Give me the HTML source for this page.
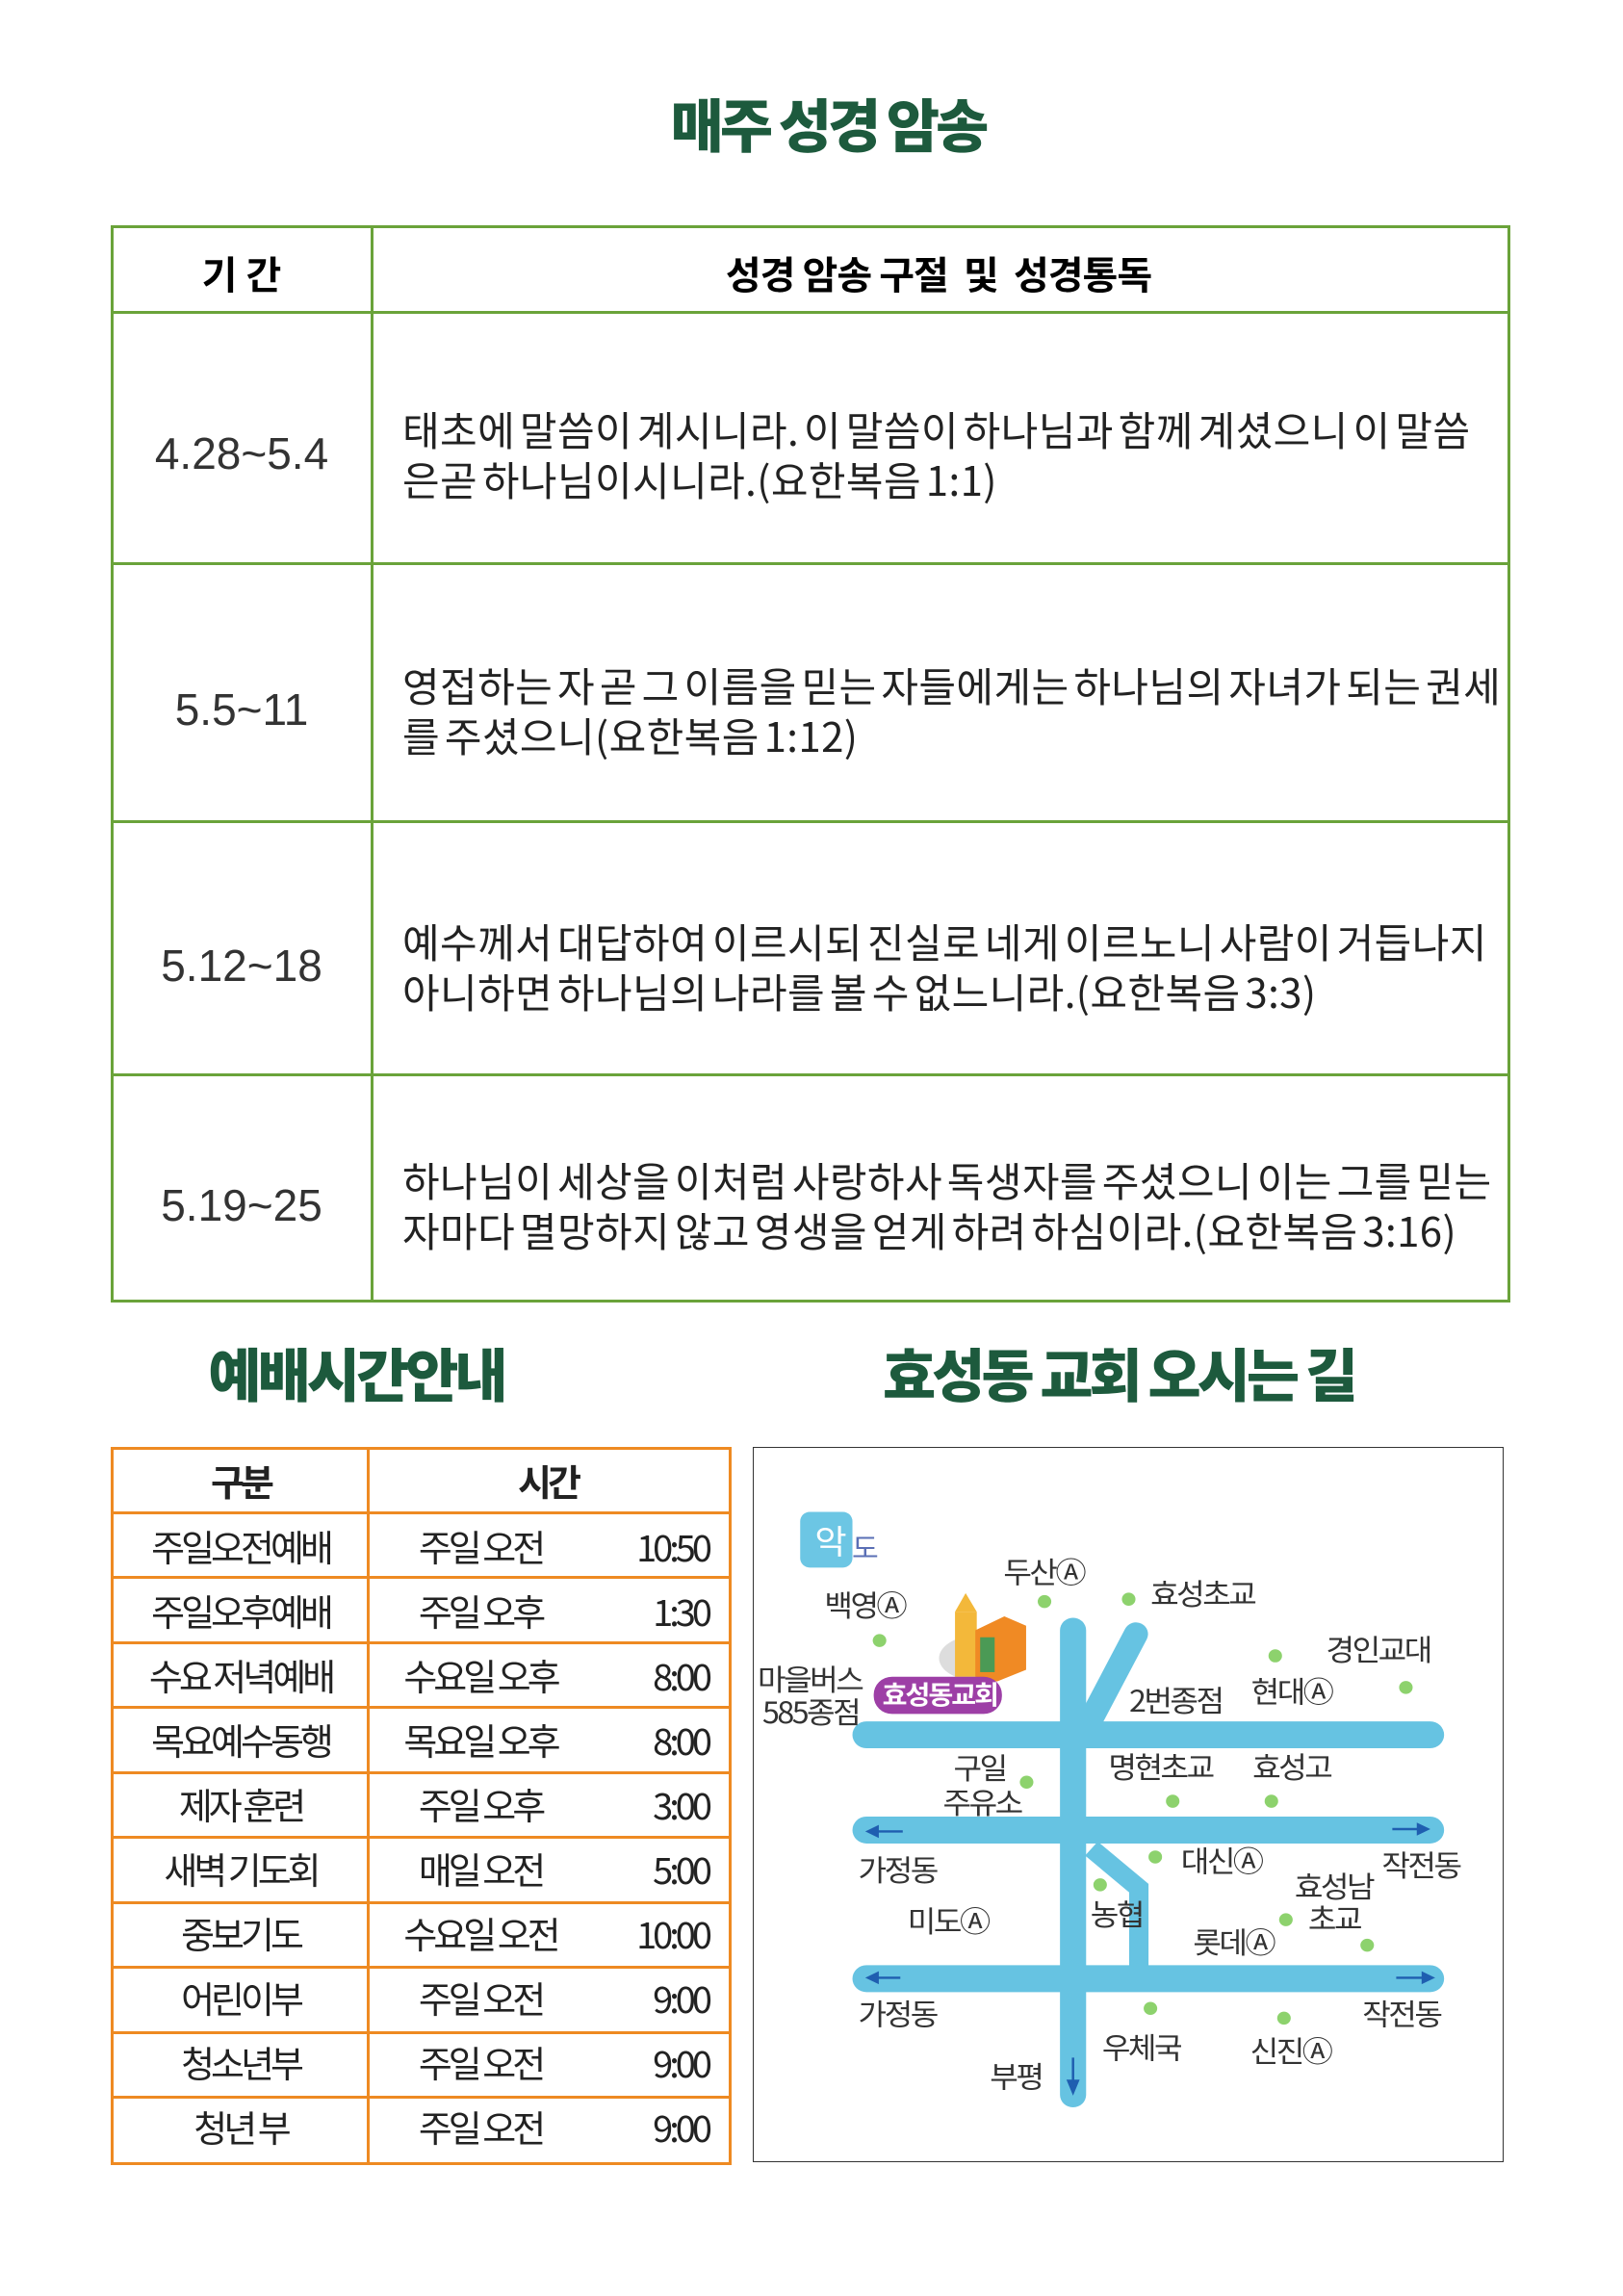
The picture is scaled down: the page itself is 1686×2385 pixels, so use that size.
<!DOCTYPE html>
<html><head><meta charset="utf-8"><style>
body{margin:0;background:#fff;width:1686px;height:2385px;position:relative;font-family:"Liberation Sans","Noto Sans CJK KR",sans-serif;overflow:hidden}
.a{position:absolute}
.t{color:#1d5a3d;font-weight:900;font-family:"Noto Sans CJK KR",sans-serif;letter-spacing:-4px;white-space:nowrap;transform:translateX(-50%)}
.v{position:absolute;left:418px;font-family:"Noto Sans CJK KR",sans-serif;font-size:42px;letter-spacing:0.4px;word-spacing:-5px;white-space:nowrap;color:#222;line-height:52px}
.d{position:absolute;font-size:46px;color:#333;transform:translateX(-50%);white-space:nowrap}
.hl{position:absolute;background:#6aa33a}
.ol{position:absolute;background:#ee8a22}
.c{position:absolute;font-family:"Noto Sans CJK KR",sans-serif;font-size:38px;letter-spacing:-4px;white-space:nowrap;color:#222;line-height:67px}
</style></head><body>
<div class="a t" style="left:860px;top:88px;font-size:60px;line-height:80px">매주 성경 암송</div>
<div class="a" style="left:115px;top:234px;width:1448px;height:1113px;border:3px solid #6aa33a"></div>
<div class="hl" style="left:385px;top:234px;width:3px;height:1116px"></div>
<div class="hl" style="left:115px;top:323px;width:1451px;height:3px"></div>
<div class="hl" style="left:115px;top:584px;width:1451px;height:3px"></div>
<div class="hl" style="left:115px;top:852px;width:1451px;height:3px"></div>
<div class="hl" style="left:115px;top:1115px;width:1451px;height:3px"></div>
<div class="a" style="left:251px;top:254px;font-size:40px;font-weight:bold;transform:translateX(-50%);font-family:'Noto Sans CJK KR',sans-serif">기 간</div>
<div class="a" style="left:975px;top:254px;font-size:40px;font-weight:bold;transform:translateX(-50%);font-family:'Noto Sans CJK KR',sans-serif;white-space:nowrap;letter-spacing:-1px">성경 암송 구절 &nbsp;및 &nbsp;성경통독</div>
<div class="d" style="left:251px;top:444px">4.28~5.4</div>
<div class="d" style="left:251px;top:710px">5.5~11</div>
<div class="d" style="left:251px;top:976px">5.12~18</div>
<div class="d" style="left:251px;top:1225px">5.19~25</div>
<div class="v" style="top:420px">태초에 말씀이 계시니라. 이 말씀이 하나님과 함께 계셨으니 이 말씀<br>은곧 하나님이시니라.(요한복음 1:1)</div>
<div class="v" style="top:686px">영접하는 자 곧 그 이름을 믿는 자들에게는 하나님의 자녀가 되는 권세<br>를 주셨으니(요한복음 1:12)</div>
<div class="v" style="top:952px">예수께서 대답하여 이르시되 진실로 네게 이르노니 사람이 거듭나지<br>아니하면 하나님의 나라를 볼 수 없느니라.(요한복음 3:3)</div>
<div class="v" style="top:1200px">하나님이 세상을 이처럼 사랑하사 독생자를 주셨으니 이는 그를 믿는<br>자마다 멸망하지 않고 영생을 얻게 하려 하심이라.(요한복음 3:16)</div>
<div class="a t" style="left:370px;top:1386px;font-size:60px;line-height:80px">예배시간안내</div>
<div class="a t" style="left:1162px;top:1386px;font-size:60px;line-height:80px">효성동 교회 오시는 길</div>
<div class="a" style="left:115px;top:1503px;width:639px;height:740px;border:3px solid #ee8a22"></div>
<div class="ol" style="left:381px;top:1503px;width:3px;height:746px"></div>
<div class="ol" style="left:115px;top:1570px;width:645px;height:3px"></div>
<div class="ol" style="left:115px;top:1637px;width:645px;height:3px"></div>
<div class="ol" style="left:115px;top:1705px;width:645px;height:3px"></div>
<div class="ol" style="left:115px;top:1772px;width:645px;height:3px"></div>
<div class="ol" style="left:115px;top:1840px;width:645px;height:3px"></div>
<div class="ol" style="left:115px;top:1907px;width:645px;height:3px"></div>
<div class="ol" style="left:115px;top:1975px;width:645px;height:3px"></div>
<div class="ol" style="left:115px;top:2042px;width:645px;height:3px"></div>
<div class="ol" style="left:115px;top:2110px;width:645px;height:3px"></div>
<div class="ol" style="left:115px;top:2177px;width:645px;height:3px"></div>
<div class="c" style="left:118px;top:1504px;width:264px;text-align:center;font-weight:bold">구분</div>
<div class="c" style="left:384px;top:1504px;width:370px;text-align:center;font-weight:bold">시간</div>
<div class="a" style="left:118px;top:1572px">
<div class="c" style="position:relative;width:264px;text-align:center">주일오전예배</div>
<div class="c" style="position:relative;width:264px;text-align:center">주일오후예배</div>
<div class="c" style="position:relative;width:264px;text-align:center">수요 저녁예배</div>
<div class="c" style="position:relative;width:264px;text-align:center">목요예수동행</div>
<div class="c" style="position:relative;width:264px;text-align:center">제자 훈련</div>
<div class="c" style="position:relative;width:264px;text-align:center">새벽 기도회</div>
<div class="c" style="position:relative;width:264px;text-align:center">중보기도</div>
<div class="c" style="position:relative;width:264px;text-align:center">어린이부</div>
<div class="c" style="position:relative;width:264px;text-align:center">청소년부</div>
<div class="c" style="position:relative;width:264px;text-align:center">청년 부</div>
</div>
<div class="a" style="left:384px;top:1572px">
<div class="c" style="position:relative;width:230px;text-align:center">주일 오전</div>
<div class="c" style="position:relative;width:230px;text-align:center">주일 오후</div>
<div class="c" style="position:relative;width:230px;text-align:center">수요일 오후</div>
<div class="c" style="position:relative;width:230px;text-align:center">목요일 오후</div>
<div class="c" style="position:relative;width:230px;text-align:center">주일 오후</div>
<div class="c" style="position:relative;width:230px;text-align:center">매일 오전</div>
<div class="c" style="position:relative;width:230px;text-align:center">수요일 오전</div>
<div class="c" style="position:relative;width:230px;text-align:center">주일 오전</div>
<div class="c" style="position:relative;width:230px;text-align:center">주일 오전</div>
<div class="c" style="position:relative;width:230px;text-align:center">주일 오전</div>
</div>
<div class="a" style="left:596px;top:1572px">
<div class="c" style="position:relative;width:140px;text-align:right">10:50</div>
<div class="c" style="position:relative;width:140px;text-align:right">1:30</div>
<div class="c" style="position:relative;width:140px;text-align:right">8:00</div>
<div class="c" style="position:relative;width:140px;text-align:right">8:00</div>
<div class="c" style="position:relative;width:140px;text-align:right">3:00</div>
<div class="c" style="position:relative;width:140px;text-align:right">5:00</div>
<div class="c" style="position:relative;width:140px;text-align:right">10:00</div>
<div class="c" style="position:relative;width:140px;text-align:right">9:00</div>
<div class="c" style="position:relative;width:140px;text-align:right">9:00</div>
<div class="c" style="position:relative;width:140px;text-align:right">9:00</div>
</div>
<div class="a" style="left:782px;top:1503px;width:778px;height:741px;border:1.5px solid #333"></div>
<svg class="a" style="left:782px;top:1515px" width="784" height="743" viewBox="0 0 1560 1540" preserveAspectRatio="none" font-family="Noto Sans CJK KR,sans-serif" font-size="64" fill="#333">
<g stroke="#66c3e2" stroke-linecap="round" fill="none">
<line x1="662" y1="370" x2="662" y2="1370" stroke-width="54"/>
<line x1="792" y1="378" x2="700" y2="560" stroke-width="50"/>
<line x1="235" y1="595" x2="1400" y2="595" stroke-width="58"/>
<line x1="235" y1="800" x2="1400" y2="800" stroke-width="58"/>
<line x1="235" y1="1120" x2="1400" y2="1120" stroke-width="58"/>
<polyline points="700,840 798,925 798,1110" stroke-width="40" stroke-linecap="butt"/>
</g>
<g stroke="#1f5eb0" stroke-width="5" fill="#1f5eb0">
<line x1="245" y1="803" x2="310" y2="803"/><polygon points="238,803 258,793 258,813"/>
<line x1="245" y1="1118" x2="305" y2="1118"/><polygon points="238,1118 258,1108 258,1128"/>
<line x1="1322" y1="798" x2="1385" y2="798"/><polygon points="1395,798 1375,788 1375,808"/>
<line x1="1330" y1="1118" x2="1395" y2="1118"/><polygon points="1405,1118 1385,1108 1385,1128"/>
<line x1="662" y1="1290" x2="662" y2="1350"/><polygon points="662,1365 652,1340 672,1340"/>
</g>
<g fill="#8dd26d">
<circle cx="603" cy="308" r="14"/><circle cx="777" cy="303" r="14"/><circle cx="262" cy="392" r="14"/>
<circle cx="1080" cy="425" r="14"/><circle cx="1350" cy="493" r="14"/><circle cx="566" cy="697" r="14"/>
<circle cx="868" cy="738" r="14"/><circle cx="1072" cy="738" r="14"/><circle cx="832" cy="858" r="14"/>
<circle cx="718" cy="918" r="14"/><circle cx="1102" cy="993" r="14"/><circle cx="1270" cy="1048" r="14"/>
<circle cx="822" cy="1184" r="14"/><circle cx="1098" cy="1205" r="14"/>
</g>
<rect x="98" y="115" width="108" height="120" rx="20" fill="#6cc6e4"/>
<text x="128" y="205" fill="#fff" font-size="72">악</text><text x="205" y="215" fill="#5a6fb5" font-size="60">도</text>
<ellipse cx="470" cy="430" rx="85" ry="50" fill="#ddd"/>
<rect x="418" y="330" width="45" height="140" fill="#f3b83a"/>
<polygon points="418,330 440,290 463,330" fill="#f3b83a"/>
<polygon points="460,370 520,340 565,360 565,455 505,480 460,470" fill="#f08a24"/>
<rect x="470" y="385" width="30" height="75" fill="#4b9a55"/>
<rect x="250" y="470" width="265" height="80" rx="38" fill="#9d3fa6"/>
<text x="268" y="530" fill="#fff" font-weight="bold" font-size="56" letter-spacing="-4">효성동교회</text>
<g letter-spacing="-5">
<text x="518" y="268">두산Ⓐ</text>
<text x="822" y="315">효성초교</text>
<text x="148" y="340">백영Ⓐ</text>
<text x="1185" y="435">경인교대</text>
<text x="10" y="500">마을버스</text>
<text x="20" y="570">585종점</text>
<text x="778" y="545">2번종점</text>
<text x="1030" y="525">현대Ⓐ</text>
<text x="415" y="690">구일</text>
<text x="393" y="765">주유소</text>
<text x="735" y="688">명현초교</text>
<text x="1033" y="688">효성고</text>
<text x="218" y="910">가정동</text>
<text x="885" y="890">대신Ⓐ</text>
<text x="1300" y="900">작전동</text>
<text x="1120" y="945">효성남</text>
<text x="1148" y="1015">초교</text>
<text x="320" y="1020">미도Ⓐ</text>
<text x="698" y="1005">농협</text>
<text x="910" y="1065">롯데Ⓐ</text>
<text x="218" y="1220">가정동</text>
<text x="1260" y="1220">작전동</text>
<text x="722" y="1292">우체국</text>
<text x="1028" y="1300">신진Ⓐ</text>
<text x="490" y="1355">부평</text>
</g>
</svg>
</body></html>
